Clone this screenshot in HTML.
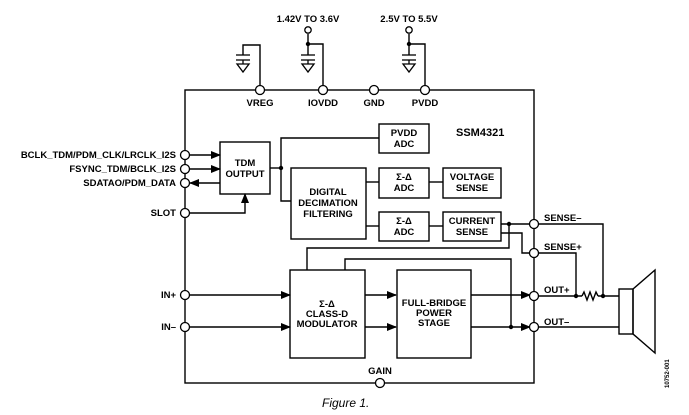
<!DOCTYPE html>
<html><head><meta charset="utf-8"><style>
html,body{margin:0;padding:0;background:#fff;}
svg{display:block;}
text{font-family:"Liberation Sans",Arial,sans-serif;font-weight:bold;font-size:9.5px;fill:#000;}
</style></head><body>
<svg width="689" height="415" viewBox="0 0 689 415" xmlns="http://www.w3.org/2000/svg">
<defs>
<marker id="a" markerWidth="10" markerHeight="8" refX="9" refY="4" orient="auto" markerUnits="userSpaceOnUse"><path d="M0,0 L10,4 L0,8 Z" fill="#000"/></marker>
</defs>
<g stroke="#000" stroke-width="1.4" fill="none">
<rect x="185" y="90" width="349" height="293"/>
<polyline points="260,90 260,45 243,45 243,55"/>
<polyline points="323,90 323,44 308,44"/>
<line x1="308" y1="34" x2="308" y2="55"/>
<polyline points="425,90 425,44 409,44"/>
<line x1="409" y1="34" x2="409" y2="55"/>
<line x1="189" y1="155" x2="220" y2="155" marker-end="url(#a)"/>
<line x1="189" y1="169" x2="220" y2="169" marker-end="url(#a)"/>
<line x1="220" y1="183" x2="190" y2="183" marker-end="url(#a)"/>
<polyline points="189,213 245,213 245,194" marker-end="url(#a)"/>
<polyline points="270,168 281,168"/>
<polyline points="379,138 281,138 281,201 291,201"/>
<line x1="366" y1="182" x2="379" y2="182"/>
<line x1="366" y1="226" x2="379" y2="226"/>
<line x1="429" y1="182" x2="443" y2="182"/>
<line x1="429" y1="226" x2="443" y2="226"/>
<line x1="501" y1="224" x2="531" y2="224"/>
<polyline points="501,233 522,233 522,253 531,253"/>
<polyline points="509,224 509,248 307,248 307,270"/>
<polyline points="345,270 345,259 511,259 511,327"/>
<line x1="189" y1="295" x2="290" y2="295" marker-end="url(#a)"/>
<line x1="189" y1="327" x2="290" y2="327" marker-end="url(#a)"/>
<line x1="365" y1="295" x2="396" y2="295" marker-end="url(#a)"/>
<line x1="365" y1="327" x2="396" y2="327" marker-end="url(#a)"/>
<line x1="471" y1="295" x2="530" y2="295" marker-end="url(#a)"/>
<line x1="471" y1="327" x2="530" y2="327" marker-end="url(#a)"/>
<polyline points="539,224 603,224 603,296"/>
<polyline points="539,253 576,253 576,296"/>
<line x1="539" y1="296" x2="582" y2="296"/>
<polyline points="582,296 584,292 587,300 590,292 593,300 596,292 598,296"/>
<line x1="598" y1="296" x2="619" y2="296"/>
<line x1="539" y1="327" x2="619" y2="327"/>
<rect x="619" y="289" width="14" height="45"/>
<polygon points="633,289 655,270 655,353 633,334"/>
<rect x="220" y="142" width="50" height="52"/>
<rect x="379" y="124" width="50" height="29"/>
<rect x="291" y="168" width="75" height="71"/>
<rect x="379" y="168" width="50" height="30"/>
<rect x="443" y="168" width="58" height="30"/>
<rect x="379" y="212" width="50" height="29"/>
<rect x="443" y="212" width="58" height="29"/>
<rect x="290" y="270" width="75" height="88"/>
<rect x="397" y="270" width="74" height="88"/>
</g>
<g stroke="#000" stroke-width="1.3" fill="none">
<g id="cap"><line x1="236" y1="55" x2="250" y2="55"/><line x1="236" y1="60" x2="250" y2="60"/><line x1="243" y1="60" x2="243" y2="64"/><polygon points="237,64 249,64 243,72"/></g>
<use href="#cap" x="65"/>
<use href="#cap" x="166"/>
</g>
<g stroke="#000" stroke-width="1.3" fill="#fff">
<circle cx="260" cy="90" r="4.5"/><circle cx="323" cy="90" r="4.5"/><circle cx="374" cy="90" r="4.5"/><circle cx="425" cy="90" r="4.5"/>
<circle cx="308" cy="30" r="3.2"/><circle cx="409" cy="30" r="3.2"/>
<circle cx="185" cy="155" r="4.5"/><circle cx="185" cy="169" r="4.5"/><circle cx="185" cy="183" r="4.5"/><circle cx="185" cy="213" r="4.5"/>
<circle cx="185" cy="295" r="4.5"/><circle cx="185" cy="327" r="4.5"/>
<circle cx="534" cy="224" r="4.5"/><circle cx="534" cy="253" r="4.5"/><circle cx="534" cy="296" r="4.5"/><circle cx="534" cy="327" r="4.5"/>
<circle cx="380" cy="383" r="4.5"/>
</g>
<g fill="#000">
<circle cx="308" cy="44" r="2.2"/><circle cx="409" cy="44" r="2.2"/><circle cx="281" cy="168" r="2.2"/>
<circle cx="509" cy="224" r="2.2"/><circle cx="511" cy="327" r="2.2"/><circle cx="576" cy="296" r="2.2"/><circle cx="603" cy="296" r="2.2"/>
</g>
<g text-anchor="middle">
<text x="308" y="22">1.42V TO 3.6V</text>
<text x="409" y="22">2.5V TO 5.5V</text>
<text x="260" y="106">VREG</text><text x="323" y="106">IOVDD</text><text x="374" y="106">GND</text><text x="425" y="106">PVDD</text>
<text x="245" y="166">TDM</text><text x="245" y="177">OUTPUT</text>
<text x="404" y="136">PVDD</text><text x="404" y="147">ADC</text>
<text x="328" y="195">DIGITAL</text><text x="328" y="206">DECIMATION</text><text x="328" y="217">FILTERING</text>
<text x="404" y="180">Σ-Δ</text><text x="404" y="191">ADC</text>
<text x="472" y="180">VOLTAGE</text><text x="472" y="191">SENSE</text>
<text x="404" y="224">Σ-Δ</text><text x="404" y="235">ADC</text>
<text x="472" y="224">CURRENT</text><text x="472" y="235">SENSE</text>
<text x="327" y="307">Σ-Δ</text><text x="327" y="317">CLASS-D</text><text x="327" y="327">MODULATOR</text>
<text x="434" y="306">FULL-BRIDGE</text><text x="434" y="316">POWER</text><text x="434" y="326">STAGE</text>
<text x="380" y="374">GAIN</text>
</g>
<text x="456" y="136" style="font-size:11px">SSM4321</text>
<g text-anchor="end">
<text x="176" y="158">BCLK_TDM/PDM_CLK/LRCLK_I2S</text>
<text x="176" y="172">FSYNC_TDM/BCLK_I2S</text>
<text x="176" y="186">SDATAO/PDM_DATA</text>
<text x="176" y="216">SLOT</text>
<text x="176" y="298">IN+</text>
<text x="176" y="330">IN–</text>
</g>
<text x="544" y="221">SENSE–</text>
<text x="544" y="250">SENSE+</text>
<text x="544" y="293">OUT+</text>
<text x="544" y="325">OUT–</text>
<text x="0" y="0" transform="translate(669,388) rotate(-90)" style="font-size:6px">10752-001</text>
<text x="322" y="407" style="font-weight:normal;font-style:italic;font-size:12px">Figure 1.</text>
</svg>
</body></html>
